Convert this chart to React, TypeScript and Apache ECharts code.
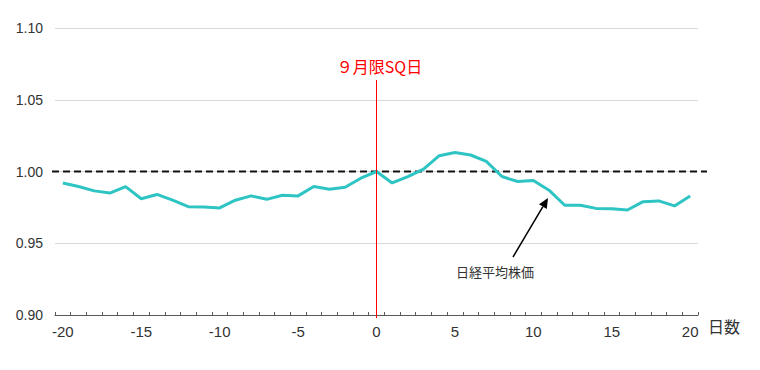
import React, { useEffect, useRef } from "react";
import * as echarts from "echarts";

const days: string[] = [
  "-20", "-19", "-18", "-17", "-16", "-15", "-14", "-13", "-12", "-11",
  "-10", "-9", "-8", "-7", "-6", "-5", "-4", "-3", "-2", "-1",
  "0", "1", "2", "3", "4", "5", "6", "7", "8", "9",
  "10", "11", "12", "13", "14", "15", "16", "17", "18", "19", "20",
];

const nikkeiRatio: number[] = [
  0.992, 0.9895, 0.9865, 0.985, 0.9895, 0.981, 0.984, 0.98, 0.9755, 0.9753,
  0.9746, 0.98, 0.983, 0.9806, 0.9834, 0.983, 0.9895, 0.9877, 0.989, 0.9953,
  1.0, 0.992, 0.9965, 1.0017, 1.011, 1.0133, 1.0115, 1.007, 0.9965, 0.993,
  0.9937, 0.987, 0.9765, 0.9765, 0.9743, 0.974, 0.9732, 0.979, 0.9795, 0.976,
  0.983,
];

const yMin = 0.9;
const yMax = 1.1;
const yStep = 0.05;
const baseLevel = 1.0;
const sqDay = "0";
const sqLabel = "９月限SQ日";
const seriesLabel = "日経平均株価";
const xAxisName = "日数";

const NUM_FONT = "'Liberation Sans', Arial, sans-serif";
const JP_FONT = "'Noto Sans CJK JP', sans-serif";

export default function App() {
  const ref = useRef<HTMLDivElement>(null);

  useEffect(() => {
    if (!ref.current) return;
    const chart = echarts.init(ref.current, undefined, { renderer: "svg" });
    chart.setOption({
      animation: false,
      backgroundColor: "#ffffff",
      grid: { left: 55, right: 62, top: 28, bottom: 55, containLabel: false },
      xAxis: {
        type: "category",
        data: days,
        boundaryGap: true,
        name: xAxisName,
        nameLocation: "end",
        nameGap: 10,
        nameTextStyle: {
          fontFamily: JP_FONT,
          fontSize: 16,
          color: "#333333",
          verticalAlign: "top",
          padding: [3, 0, 0, 0],
        },
        axisLine: { show: true, lineStyle: { color: "#595959", width: 1 } },
        axisTick: {
          show: true,
          inside: true,
          length: 3,
          interval: 0,
          lineStyle: { color: "#595959" },
        },
        axisLabel: {
          interval: (idx: number) => idx % 5 === 0,
          margin: 9,
          fontSize: 15,
          fontFamily: NUM_FONT,
          color: "#333333",
        },
        splitLine: { show: false },
      },
      yAxis: {
        type: "value",
        min: yMin,
        max: yMax,
        interval: yStep,
        axisLine: { show: false },
        axisTick: { show: false },
        axisLabel: {
          margin: 12,
          fontSize: 14,
          fontFamily: NUM_FONT,
          color: "#333333",
          formatter: (v: number) => v.toFixed(2),
        },
        splitLine: { show: true, lineStyle: { color: "#d9d9d9", width: 1 } },
      },
      series: [
        {
          type: "line",
          name: seriesLabel,
          data: nikkeiRatio,
          symbol: "none",
          lineStyle: { color: "#2EC4C4", width: 3 },
          z: 3,
        },
      ],
    });

    const yBase = chart.convertToPixel({ yAxisIndex: 0 }, baseLevel) as number;
    const xSq = chart.convertToPixel({ xAxisIndex: 0 }, sqDay) as number;
    const yBottom = chart.convertToPixel({ yAxisIndex: 0 }, yMin) as number;

    const tip = [548, 198];
    const tail = [513, 257];
    const dx = tip[0] - tail[0];
    const dy = tip[1] - tail[1];
    const len = Math.sqrt(dx * dx + dy * dy);
    const ux = dx / len;
    const uy = dy / len;
    const headLen = 10;
    const headHalf = 4.5;
    const bx = tip[0] - ux * headLen;
    const by = tip[1] - uy * headLen;
    const px = -uy;
    const py = ux;

    chart.setOption({
      graphic: [
        {
          type: "line",
          shape: { x1: 52, y1: yBase, x2: 707, y2: yBase },
          style: { stroke: "#111111", lineWidth: 2, lineDash: [7, 4] },
          z: 2,
        },
        {
          type: "line",
          shape: { x1: xSq, y1: 80, x2: xSq, y2: yBottom + 3 },
          style: { stroke: "#ff0000", lineWidth: 1 },
          z: 4,
        },
        {
          type: "text",
          x: xSq + 3,
          y: 66,
          style: {
            text: sqLabel,
            fontSize: 16,
            fontFamily: JP_FONT,
            fill: "#ff0000",
            align: "center",
            verticalAlign: "middle",
          },
          z: 5,
        },
        {
          type: "line",
          shape: { x1: tail[0], y1: tail[1], x2: bx, y2: by },
          style: { stroke: "#000000", lineWidth: 1.5 },
          z: 5,
        },
        {
          type: "polygon",
          shape: {
            points: [
              [tip[0], tip[1]],
              [bx + px * headHalf, by + py * headHalf],
              [bx - px * headHalf, by - py * headHalf],
            ],
          },
          style: { fill: "#000000" },
          z: 5,
        },
        {
          type: "text",
          x: 495,
          y: 271,
          style: {
            text: seriesLabel,
            fontSize: 13,
            fontFamily: JP_FONT,
            fill: "#333333",
            align: "center",
            verticalAlign: "middle",
          },
          z: 5,
        },
      ],
    });

    return () => chart.dispose();
  }, []);

  return (
    <div
      ref={ref}
      style={{ position: "fixed", left: 0, top: 0, width: 760, height: 370, background: "#fff" }}
    />
  );
}
